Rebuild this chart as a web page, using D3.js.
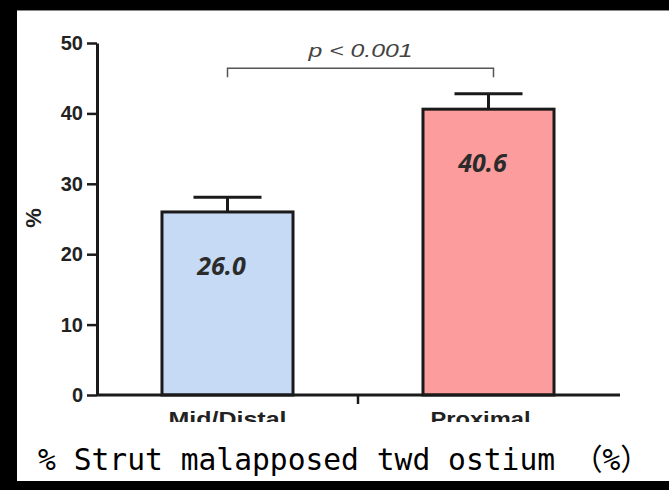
<!DOCTYPE html>
<html>
<head>
<meta charset="utf-8">
<script src="https://cdn.jsdelivr.net/npm/d3@7"></script>
<style>
  html, body { margin: 0; padding: 0; background: #fff; overflow: hidden; }
  svg { display: block; }
</style>
</head>
<body>
<svg id="chart"></svg>
<script>
// chart data
var categories = ["Mid/Distal", "Proximal"];
var values = [26.0, 40.6];
var errors = [2.1, 2.2];
var barColors = ["#c6daf5", "#fc9c9d"];
var yTicks = [0, 10, 20, 30, 40, 50];
var pText = "p < 0.001";
var titleText = "% Strut malapposed twd ostium （%）";

var W = 669, H = 490;
var margin = {top: 43, left: 97, bottom: 95, right: 50};

var svg = d3.select("#chart")
    .attr("width", W)
    .attr("height", H);

// black frame: top, left and bottom only
svg.append("rect").attr("x", 0).attr("y", 0).attr("width", W).attr("height", H).attr("fill", "#fff");
svg.append("rect").attr("x", 0).attr("y", 0).attr("width", W).attr("height", 10).attr("fill", "#000");
svg.append("rect").attr("x", 0).attr("y", 0).attr("width", 17).attr("height", H).attr("fill", "#000");
svg.append("rect").attr("x", 0).attr("y", 481).attr("width", W).attr("height", 9).attr("fill", "#000");
svg.append("line").attr("x1", 17).attr("x2", W).attr("y1", 10.5).attr("y2", 10.5).attr("stroke", "#888");

var width = W - margin.left - margin.right;   // 522
var height = H - margin.top - margin.bottom;  // 352

var chart = svg.append("g")
    .attr("transform", `translate(${margin.left}, ${margin.top})`);

var yScale = d3.scaleLinear().domain([0, 50]).range([height, 0]);
var xScale = d3.scaleBand().domain(categories).range([0, width]).paddingInner(0.498).paddingOuter(0.249);

// bars
chart.selectAll(".bar")
    .data(values)
    .enter().append("rect")
    .attr("class", "bar")
    .attr("x", (d, i) => xScale(categories[i]))
    .attr("y", d => yScale(d))
    .attr("width", xScale.bandwidth())
    .attr("height", d => height - yScale(d))
    .attr("fill", (d, i) => barColors[i])
    .attr("stroke", "#1a1a1a")
    .attr("stroke-width", 3);

// error bars (upper only)
values.forEach(function(v, i) {
    var cx = xScale(categories[i]) + xScale.bandwidth() / 2;
    chart.append("line")
        .attr("x1", cx).attr("x2", cx)
        .attr("y1", yScale(v)).attr("y2", yScale(v + errors[i]))
        .attr("stroke", "#1a1a1a").attr("stroke-width", 3);
    chart.append("line")
        .attr("x1", cx - 34).attr("x2", cx + 34)
        .attr("y1", yScale(v + errors[i])).attr("y2", yScale(v + errors[i]))
        .attr("stroke", "#1a1a1a").attr("stroke-width", 3);
});

// value labels
chart.selectAll(".val")
    .data(values)
    .enter().append("text")
    .attr("class", "val")
    .attr("x", (d, i) => xScale(categories[i]) + xScale.bandwidth() / 2 - 6)
    .attr("y", (d, i) => i == 0 ? 232 : 129)
    .attr("text-anchor", "middle")
    .attr("font-family", "'Open Sans', 'DejaVu Sans', sans-serif")
    .attr("font-size", "25px")
    .attr("font-weight", "bold")
    .attr("font-style", "italic")
    .attr("fill", "#2b2b2b")
    .text(d => d.toFixed(1));

// y axis
var yAxis = d3.axisLeft(yScale).tickValues(yTicks).tickSize(10).tickPadding(4).tickSizeOuter(0);
var yg = chart.append("g").call(yAxis);
yg.select(".domain").attr("stroke", "#1a1a1a").attr("stroke-width", 3);
yg.selectAll(".tick line").attr("stroke", "#1a1a1a").attr("stroke-width", 2.5);
yg.selectAll(".tick text")
    .attr("font-family", "Arial, 'Liberation Sans', sans-serif")
    .attr("font-size", "20px")
    .attr("font-weight", "bold")
    .attr("fill", "#222");

// x axis line
chart.append("line")
    .attr("x1", 0).attr("x2", 523)
    .attr("y1", height).attr("y2", height)
    .attr("stroke", "#1a1a1a").attr("stroke-width", 3);
// middle tick between groups
var midX = (xScale(categories[0]) + xScale.bandwidth() + xScale(categories[1])) / 2;
chart.append("line")
    .attr("x1", midX).attr("x2", midX)
    .attr("y1", height).attr("y2", height + 9)
    .attr("stroke", "#1a1a1a").attr("stroke-width", 2.5);

// category labels, clipped at the bottom like the original
var catW = [118, 100];
svg.append("clipPath").attr("id", "clipcat")
    .append("rect").attr("x", 0).attr("y", 0).attr("width", W).attr("height", 422);
svg.append("g").attr("clip-path", "url(#clipcat)")
    .selectAll(".cat")
    .data(categories)
    .enter().append("text")
    .attr("x", (d, i) => margin.left + xScale(d) + xScale.bandwidth() / 2 - (i == 1 ? 8 : 0))
    .attr("y", 426)
    .attr("text-anchor", "middle")
    .attr("font-family", "Arial, 'Liberation Sans', sans-serif")
    .attr("font-size", "21px")
    .attr("font-weight", "bold")
    .attr("fill", "#222")
    .attr("textLength", (d, i) => catW[i])
    .attr("lengthAdjust", "spacingAndGlyphs")
    .text(d => d);

// y label
svg.append("text")
    .attr("transform", "translate(41, 218) rotate(-90)")
    .attr("text-anchor", "middle")
    .attr("font-family", "Arial, 'Liberation Sans', sans-serif")
    .attr("font-size", "22px")
    .attr("font-weight", "bold")
    .attr("fill", "#222")
    .text("%");

// significance bracket
var x1 = xScale(categories[0]) + xScale.bandwidth() / 2;
var x2 = xScale(categories[1]) + xScale.bandwidth() / 2 + 5;
var by = yScale(46.4);
chart.append("path")
    .attr("d", `M${x1},${by + 9}V${by}H${x2}V${by + 9}`)
    .attr("fill", "none")
    .attr("stroke", "#555")
    .attr("stroke-width", 1.5);
chart.append("text")
    .attr("x", (x1 + x2) / 2)
    .attr("y", by - 11)
    .attr("text-anchor", "middle")
    .attr("font-family", "Arial, 'Liberation Sans', sans-serif")
    .attr("font-size", "19px")
    .attr("font-style", "italic")
    .attr("fill", "#444")
    .attr("textLength", 104)
    .attr("lengthAdjust", "spacingAndGlyphs")
    .text(pText);

// bottom title
svg.append("text")
    .attr("x", 38)
    .attr("y", 470)
    .attr("font-family", "'DejaVu Sans Mono', 'Noto Sans CJK SC', monospace")
    .attr("font-size", "30px")
    .attr("fill", "#000")
    .attr("textLength", 612)
    .attr("lengthAdjust", "spacingAndGlyphs")
    .text(titleText);
</script>
</body>
</html>
